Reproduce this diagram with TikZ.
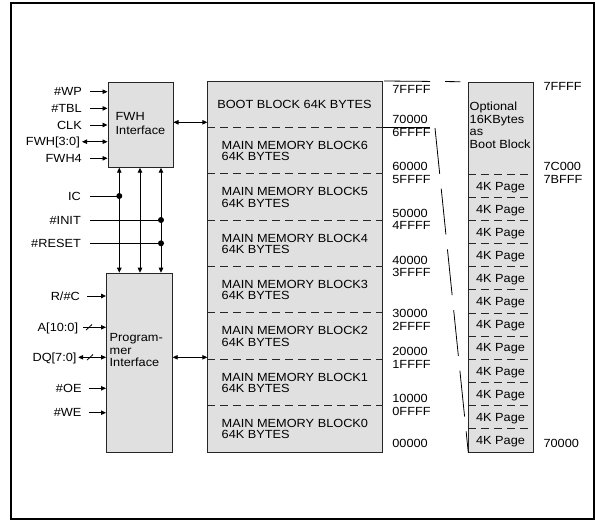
\documentclass[tikz,border=0pt]{standalone}
\usepackage{fontspec}
\setmainfont{Liberation Sans}[FakeStretch=1.08]
\usetikzlibrary{arrows.meta,calc}
\definecolor{boxfill}{RGB}{224,224,224}
\begin{document}
\begin{tikzpicture}[x=1pt,y=-1pt,
  font=\fontsize{11.8}{12}\selectfont,
  box/.style={draw=black!85, line width=1pt, fill=boxfill, inner sep=0, anchor=north west},
  lbl/.style={inner sep=0, text height=8.5pt, text depth=0pt},
  arr/.style={line width=0.9pt, -{Triangle[length=5pt,width=4.5pt]}},
  darr/.style={line width=0.9pt, {Triangle[length=5pt,width=4.5pt]}-{Triangle[length=5pt,width=4.5pt]}},
  plain/.style={line width=0.9pt},
  dsep/.style={line width=0.8pt, dash pattern=on 8pt off 5pt, draw=black!85},
  zoomline/.style={line width=0.8pt, dash pattern=on 46pt off 15pt},
  jdot/.style={circle, fill, inner sep=0, minimum size=6pt},
]
\useasboundingbox (0,0) rectangle (595,520);
\draw[line width=1.3pt] (11,3) rectangle (594,519);

% boxes
\node[box, minimum width=65pt, minimum height=85pt] (fwh) at (107.5,81.7) {};
\node[box, minimum width=65.7pt, minimum height=179pt] (prog) at (106,272.7) {};
\node[box, minimum width=174.4pt, minimum height=370.7pt] (mem) at (207.3,81) {};
\node[box, minimum width=64.4pt, minimum height=370pt] (page) at (468.3,81.7) {};

% box texts
\node[inner sep=0, anchor=west, align=left, font=\fontsize{11.8}{14}\selectfont] (fwht) at (115.5,123) {FWH\\Interface};
\node[inner sep=0, anchor=west, align=left, font=\fontsize{11.8}{12.6}\selectfont] (progt) at (109.5,350) {Program-\\mer\\Interface};

% memory blocks
\foreach \i in {1,...,7}
  \draw[dsep] ($(mem.north west)+(0,\i*46.34)$) -- ($(mem.north east)+(0,\i*46.34)$);
\node[lbl] (boot) at (294.5,104.2) {BOOT BLOCK 64K BYTES};
\foreach \i/\n in {1/6,2/5,3/4,4/3,5/2,6/1,7/0}
  \node[inner sep=0, anchor=west, align=left, font=\fontsize{11.8}{11.5}\selectfont] (mb\n) at (221.5,{81+(\i+0.5)*46.34+0.5}) {MAIN MEMORY BLOCK\n\\64K BYTES};

% page box
\draw[dsep] (page.west |- 0,174.3) -- (page.east |- 0,174.3);
\foreach \i in {1,...,11}
  \draw[dsep] (468.3,{174.3+\i*23.117}) -- (532.7,{174.3+\i*23.117});
\foreach \i in {0,...,11}
  \node[lbl] (pg\i) at (500.5,{174.3+(\i+0.5)*23.117}) {4K Page};
\node[inner sep=0, anchor=west, align=left, font=\fontsize{11.8}{12.5}\selectfont] (opt) at (469.5,125.5) {Optional\\16KBytes\\as\\Boot Block};

% address labels left column
\foreach \t/\y in {7FFFF/89.3, 70000/119.3, 6FFFF/132.3, 60000/166, 5FFFF/179.3,
  50000/213.3, 4FFFF/225, 40000/260, 3FFFF/272.7, 30000/313.3, 2FFFF/326.7,
  20000/351, 1FFFF/364.3, 10000/398.3, 0FFFF/411.7, 00000/443.3}
  \node[lbl, anchor=west] (a\t) at (392.2,\y) {\t};
% address labels right column
\node[lbl, anchor=west] (r7FFFF) at (543.3,86.7) {7FFFF};
\node[lbl, anchor=west] (r7C000) at (543.3,166) {7C000};
\node[lbl, anchor=west] (r7BFFF) at (543.3,179.3) {7BFFF};
\node[lbl, anchor=west] (r70000) at (543.3,443.3) {70000};

% zoom indicator
\coordinate (zb) at (430,127.3);
\coordinate (zs) at (435,128);
\draw[zoomline] ([xshift=1.5pt]mem.north east) -- ([xshift=-8pt]page.north west);
\draw[line width=0.8pt] (mem.east |- zb) -- (zb);
\draw[zoomline] (zs) -- (page.south west);

% FWH signals
\node[lbl, anchor=east] (wp) at (82,91.7) {\#WP};
\node[lbl, anchor=east] (tbl) at (82,108.4) {\#TBL};
\node[lbl, anchor=east] (clk) at (82,125) {CLK};
\node[lbl, anchor=east] (fwhd) at (80,141.7) {FWH[3:0]};
\node[lbl, anchor=east] (fwh4) at (82,158.3) {FWH4};
\foreach \n in {wp,tbl,clk,fwh4}
  \draw[arr] ([xshift=8pt]\n.east) -- (\n.east -| fwh.west);
\draw[darr] ([xshift=2pt]fwhd.east) -- (fwhd.east -| fwh.west);

% control lines
\coordinate (v1) at (119.3,0);
\coordinate (v2) at (140,0);
\coordinate (v3) at (161,0);
\foreach \v in {v1,v2,v3}
  \draw[darr] (\v |- fwh.south) -- (\v |- prog.north);
\node[lbl, anchor=east] (ic) at (81,196) {IC};
\node[lbl, anchor=east] (init) at (81,220) {\#INIT};
\node[lbl, anchor=east] (reset) at (81,243.3) {\#RESET};
\draw[plain] ([xshift=9pt]ic.east) -- (ic.east -| v1) node[jdot] (d1) {};
\draw[plain] ([xshift=9pt]init.east) -- (init.east -| v3) node[jdot] (d2) {};
\draw[plain] ([xshift=9pt]reset.east) -- (reset.east -| v3) node[jdot] (d3) {};

% programmer signals
\node[lbl, anchor=east] (rc) at (80,296) {R/\#C};
\node[lbl, anchor=east] (addr) at (78.3,327.3) {A[10:0]};
\node[lbl, anchor=east] (dq) at (76.7,357.3) {DQ[7:0]};
\node[lbl, anchor=east] (oe) at (81.7,388.3) {\#OE};
\node[lbl, anchor=east] (we) at (81.7,412.7) {\#WE};
\foreach \n in {rc,oe,we}
  \draw[arr] ([xshift=7pt]\n.east) -- (\n.east -| prog.west);
\draw[arr] ([xshift=5pt]addr.east) -- (addr.east -| prog.west);
\draw[line width=0.8pt] ($(addr.east -| prog.west)+(-20,2.8)$) -- ++(6,-5.6);
\draw[darr] ([xshift=1.5pt]dq.east) -- (dq.east -| prog.west);
\draw[line width=0.8pt] ($(dq.east -| prog.west)+(-19,2.8)$) -- ++(6,-5.6);

% bus arrows to memory
\coordinate (fy) at (0,122.3);
\coordinate (py) at (0,357.3);
\draw[darr] (fwh.east |- fy) -- (mem.west |- fy);
\draw[darr] (prog.east |- py) -- (mem.west |- py);
\end{tikzpicture}
\end{document}
